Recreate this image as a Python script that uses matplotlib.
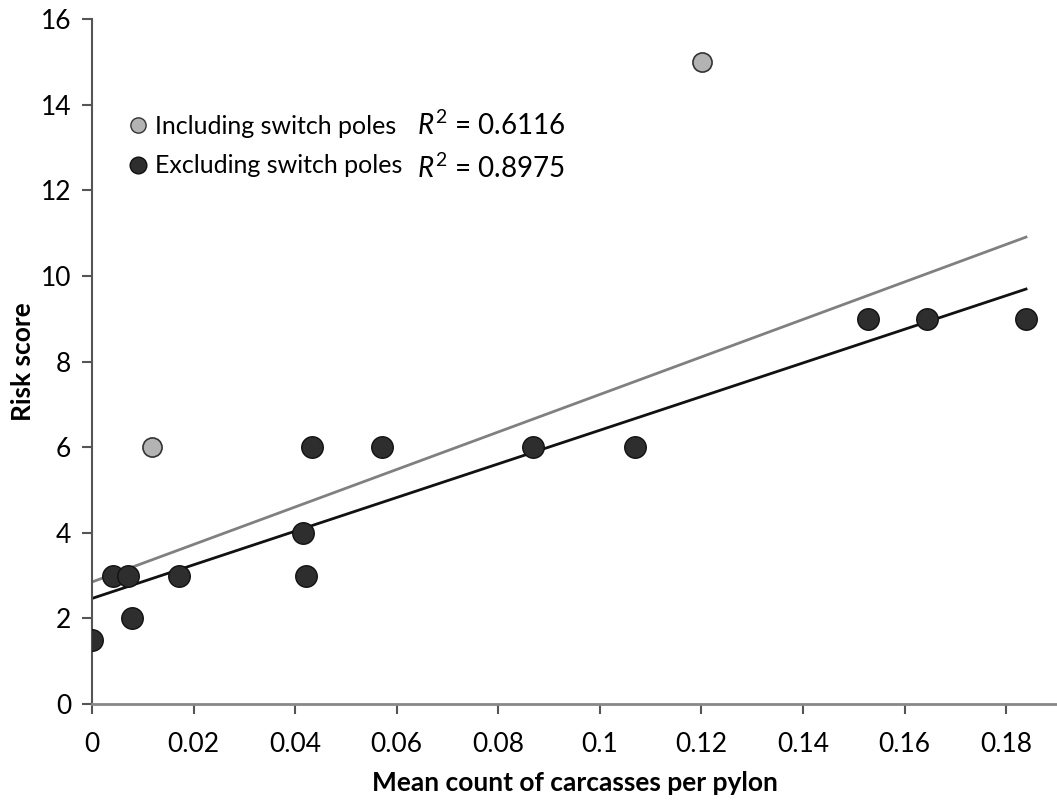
import numpy as np
import matplotlib
matplotlib.use("Agg")
import matplotlib.pyplot as plt
from matplotlib.lines import Line2D

plt.rcParams['font.family'] = ['Lato', 'DejaVu Sans']
plt.rcParams['mathtext.fontset'] = 'custom'
plt.rcParams['mathtext.it'] = 'Lato:italic'
plt.rcParams['mathtext.rm'] = 'Lato'

# pylons excluding switch poles
x_excl = [0.0, 0.0042, 0.0070, 0.0078, 0.0172, 0.0416, 0.0422, 0.0434,
          0.0571, 0.0868, 0.1069, 0.1528, 0.1644, 0.1839]
y_excl = [1.5, 3, 3, 2, 3, 4, 3, 6, 6, 6, 6, 9, 9, 9]

# switch poles (only in the "including" fit)
x_switch = [0.0118, 0.1202]
y_switch = [6, 15]

r2_incl = "0.6116"
r2_excl = "0.8975"

x_all = np.array(x_excl + x_switch)
y_all = np.array(y_excl + y_switch)

fig = plt.figure(figsize=(10.57, 8), dpi=100)
ax = fig.add_axes([0.087, 0.12, 0.913, 0.856])

# trendlines, drawn over the x range of the data like Excel
xs = np.array([0, max(x_excl)])
b_all = np.polyfit(x_all, y_all, 1)
b_ex = np.polyfit(x_excl, y_excl, 1)
ax.plot(xs, np.polyval(b_all, xs), color='#808080', lw=2, zorder=2)
ax.plot(xs, np.polyval(b_ex, xs), color='#111111', lw=2, zorder=2)

ax.scatter(x_switch, y_switch, s=190, color='#b3b3b3', edgecolor='#333333',
           linewidth=1.2, zorder=3)
ax.scatter(x_excl, y_excl, s=240, color='#2e2e2e', edgecolor='#111111',
           linewidth=1.0, zorder=3)

ax.set_xlim(0, 0.19)
ax.set_ylim(0, 16)
ax.set_xticks(np.arange(0, 0.181, 0.02))
ax.set_xticklabels(['0', '0.02', '0.04', '0.06', '0.08', '0.1', '0.12',
                    '0.14', '0.16', '0.18'])
ax.set_yticks(range(0, 17, 2))

for s in ['top', 'right']:
    ax.spines[s].set_visible(False)
ax.spines['left'].set_color('#555555')
ax.spines['bottom'].set_color('#888888')
ax.spines['left'].set_linewidth(1.5)
ax.spines['bottom'].set_linewidth(2)
ax.tick_params(axis='both', direction='out', length=7, width=1.5,
               colors='#555555', labelcolor='black', labelsize=19, pad=8)
ax.tick_params(axis='x', pad=13)

ax.set_xlabel('Mean count of carcasses per pylon', fontsize=19,
              fontweight='bold', labelpad=10)
ax.set_ylabel('Risk score', fontsize=19, fontweight='bold', labelpad=4)

handles = [
    Line2D([], [], ls='', marker='o', ms=11, mfc='#b3b3b3', mec='#333333'),
    Line2D([], [], ls='', marker='o', ms=12, mfc='#2e2e2e', mec='#111111'),
]
leg = ax.legend(handles, ['Including switch poles', 'Excluding switch poles'],
                loc='upper left', bbox_to_anchor=(0.03, 0.875), frameon=False,
                fontsize=18, handlelength=0.6, handletextpad=0.35,
                labelspacing=0.66, borderaxespad=0)
ax.text(0.337, 0.845, '$R^{2}$ = ' + r2_incl, transform=ax.transAxes,
        fontsize=20, va='center')
ax.text(0.337, 0.782, '$R^{2}$ = ' + r2_excl, transform=ax.transAxes,
        fontsize=20, va='center')

fig.savefig('out.png', dpi=100)
